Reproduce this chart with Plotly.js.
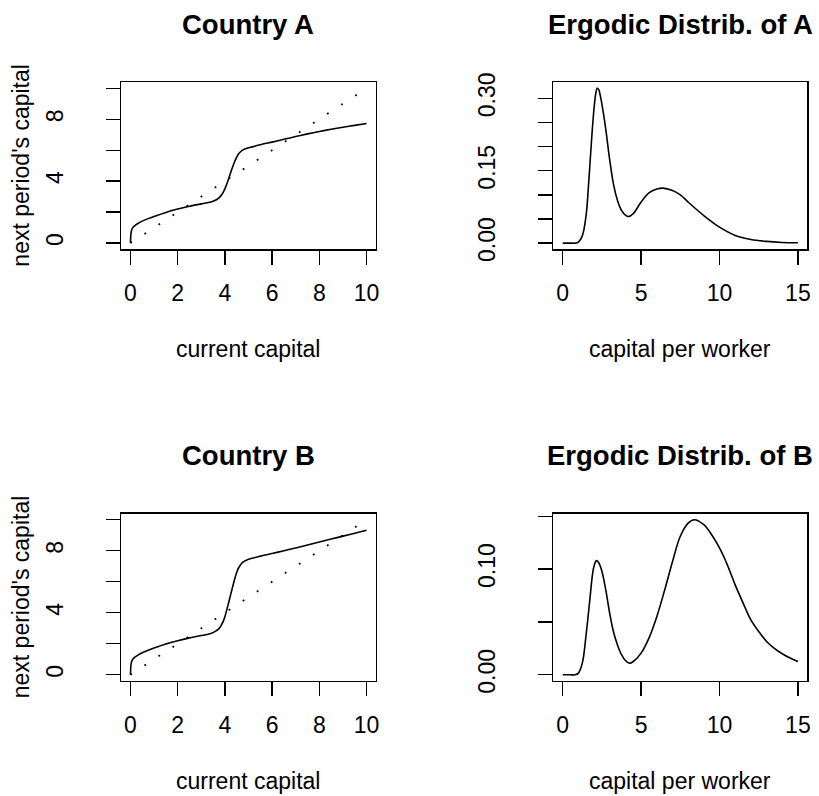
<!DOCTYPE html>
<html>
<head>
<meta charset="utf-8">
<script src="https://cdn.plot.ly/plotly-3.0.1.min.js"></script>
<style>
  html, body { margin: 0; padding: 0; background: #ffffff; }
  #chart { width: 819px; height: 796px; }
</style>
</head>
<body>
<div id="chart"></div>
<script>
// Transition maps k(t) -> k(t+1) for two countries, and the ergodic densities they imply.

// Current capital grid (shared by both transition maps)
const capitalNow = [0, 0.02, 0.05, 0.1, 0.2, 0.3, 0.5, 0.75, 1, 1.5, 2, 2.5, 3, 3.25, 3.5, 3.75,
  3.9, 4, 4.1, 4.2, 4.3, 4.4, 4.5, 4.6, 4.75, 5, 5.5, 6, 6.5, 7, 7.5, 8, 8.5, 9, 9.5, 10];

// Next period's capital, Country A
const nextCapitalA = [0, 0.6, 0.85, 1.0, 1.15, 1.25, 1.42, 1.58, 1.72, 1.98, 2.2, 2.38, 2.53, 2.6, 2.7, 2.92,
  3.2, 3.5, 3.9, 4.35, 4.8, 5.2, 5.55, 5.8, 6.0, 6.15, 6.35, 6.52, 6.7, 6.88, 7.05, 7.2, 7.35, 7.48, 7.6, 7.72];

// Next period's capital, Country B
const nextCapitalB = [0, 0.6, 0.85, 1.0, 1.15, 1.25, 1.42, 1.58, 1.72, 1.98, 2.2, 2.38, 2.53, 2.6, 2.72, 2.98,
  3.35, 3.75, 4.3, 4.9, 5.5, 6.1, 6.6, 6.95, 7.25, 7.45, 7.65, 7.82, 8.0, 8.18, 8.37, 8.56, 8.75, 8.94, 9.13, 9.32];

// 45-degree reference line
const diagX = [0, 10];
const diagY = [0, 10];

// Ergodic density of Country A
const densXA = [0, 0.5, 0.8, 1, 1.25, 1.5, 1.625, 1.75, 1.875, 2, 2.1, 2.2, 2.3, 2.4, 2.5, 2.75, 3, 3.25, 3.5,
  3.75, 4, 4.2, 4.5, 5, 5.5, 6, 6.4, 7, 7.5, 8, 9, 10, 11, 12, 13, 14, 15];
const densYA = [0, 0, 0, 0.002, 0.015, 0.06, 0.11, 0.17, 0.23, 0.28, 0.308, 0.321, 0.318, 0.305, 0.288, 0.235,
  0.172, 0.12, 0.088, 0.068, 0.058, 0.055, 0.061, 0.085, 0.104, 0.112, 0.114, 0.109, 0.1, 0.085, 0.057, 0.033,
  0.016, 0.0076, 0.0035, 0.0014, 0.0007];

// Ergodic density of Country B
const densXB = [0, 0.5, 0.8, 1, 1.25, 1.5, 1.75, 1.9, 2, 2.15, 2.3, 2.5, 2.75, 3, 3.25, 3.5, 3.75, 4, 4.25, 4.5,
  5, 5.5, 6, 6.5, 7, 7.5, 8, 8.4, 9, 9.5, 10, 10.5, 11, 11.5, 12, 12.5, 13, 13.5, 14, 14.5, 15];
const densYB = [0, 0, 0, 0.0016, 0.011, 0.039, 0.074, 0.095, 0.103, 0.108, 0.106, 0.098, 0.08, 0.058, 0.04,
  0.028, 0.019, 0.0135, 0.011, 0.0126, 0.0205, 0.0347, 0.055, 0.08, 0.107, 0.131, 0.1435, 0.1467, 0.142, 0.1325,
  0.12, 0.104, 0.085, 0.068, 0.052, 0.041, 0.0315, 0.025, 0.0199, 0.0158, 0.0126];

// Tick positions and labels
const mapTicks = [0, 2, 4, 6, 8, 10];
const mapXLabels = ['0', '2', '4', '6', '8', '10'];
const mapYLabels = ['0', '', '4', '', '8', ''];
const densTicksX = [0, 5, 10, 15];
const densXLabels = ['0', '5', '10', '15'];
const densTicksYA = [0, 0.05, 0.10, 0.15, 0.20, 0.25, 0.30];
const densYLabelsA = ['0.00', '', '', '0.15', '', '', '0.30'];
const densTicksYB = [0, 0.05, 0.10, 0.15];
const densYLabelsB = ['0.00', '', '0.10', ''];

// Text
const panelTitles = ['Country A', 'Ergodic Distrib. of A', 'Country B', 'Ergodic Distrib. of B'];
const xTitles = ['current capital', 'capital per worker', 'current capital', 'capital per worker'];
const yTitleMap = "next period's capital";

const W = 819, H = 796;
const FONT = 'Liberation Sans, Arial, Helvetica, sans-serif';

// Plot boxes in pixels: [left, right, top, bottom]
const boxes = [
  [121, 376, 82, 249.3],
  [553.3, 807.3, 82, 249.3],
  [121, 376, 513.5, 681],
  [553.3, 807.3, 513.5, 681]
];

function padRange(lo, hi) {
  const d = (hi - lo) * 0.04;
  return [lo - d, hi + d];
}

function axisBase(box, isX, range, vals, text, anchor) {
  const dom = isX ? [box[0] / W, box[1] / W] : [1 - box[3] / H, 1 - box[2] / H];
  return {
    domain: dom,
    range: range,
    anchor: anchor,
    tickmode: 'array',
    tickvals: vals,
    ticktext: text,
    showline: true,
    mirror: true,
    linecolor: '#000',
    linewidth: 1.3,
    ticks: 'outside',
    ticklen: 14,
    tickwidth: 1.3,
    tickcolor: '#000',
    showgrid: false,
    zeroline: false,
    tickangle: isX ? 0 : -90,
    ticklabelstandoff: isX ? 9 : 34,
    tickfont: { family: FONT, size: 23, color: '#000' },
    fixedrange: true
  };
}

const mapRange = padRange(0, 10);
const densXRange = padRange(0, 15);
const densYRangeA = padRange(0, Math.max(...densYA));
const densYRangeB = padRange(0, Math.max(...densYB));

const solid = { color: '#000', width: 1.6 };
const dotted = { color: '#000', width: 1.8, dash: '1.8px,15px' };

const traces = [
  { x: capitalNow, y: nextCapitalA, xaxis: 'x', yaxis: 'y', mode: 'lines', line: Object.assign({ shape: 'spline', smoothing: 0.6 }, solid) },
  { x: diagX, y: diagY, xaxis: 'x', yaxis: 'y', mode: 'lines', line: dotted },
  { x: densXA, y: densYA, xaxis: 'x2', yaxis: 'y2', mode: 'lines', line: Object.assign({ shape: 'spline', smoothing: 1 }, solid) },
  { x: capitalNow, y: nextCapitalB, xaxis: 'x3', yaxis: 'y3', mode: 'lines', line: Object.assign({ shape: 'spline', smoothing: 0.6 }, solid) },
  { x: diagX, y: diagY, xaxis: 'x3', yaxis: 'y3', mode: 'lines', line: dotted },
  { x: densXB, y: densYB, xaxis: 'x4', yaxis: 'y4', mode: 'lines', line: Object.assign({ shape: 'spline', smoothing: 1 }, solid) }
];

const annotations = [];
boxes.forEach((b, i) => {
  const cx = (b[0] + b[1]) / 2 / W;
  // panel title
  annotations.push({
    xref: 'paper', yref: 'paper', x: cx, y: 1 - (b[2] - 58) / H,
    xanchor: 'center', yanchor: 'middle', showarrow: false,
    text: '<b>' + panelTitles[i] + '</b>',
    font: { family: FONT, size: 27.5, color: '#000' }
  });
  // x-axis title
  annotations.push({
    xref: 'paper', yref: 'paper', x: cx, y: 1 - (b[3] + 100) / H,
    xanchor: 'center', yanchor: 'middle', showarrow: false,
    text: xTitles[i],
    font: { family: FONT, size: 23, color: '#000' }
  });
});
[0, 2].forEach(i => {
  const b = boxes[i];
  annotations.push({
    xref: 'paper', yref: 'paper', x: 21 / W, y: 1 - (b[2] + b[3]) / 2 / H,
    xanchor: 'center', yanchor: 'middle', showarrow: false, textangle: -90,
    text: yTitleMap,
    font: { family: FONT, size: 23, color: '#000' }
  });
});

const layout = {
  width: W, height: H,
  margin: { l: 0, r: 0, t: 0, b: 0 },
  paper_bgcolor: '#fff', plot_bgcolor: '#fff',
  showlegend: false,
  xaxis: axisBase(boxes[0], true, mapRange, mapTicks, mapXLabels, 'y'),
  yaxis: axisBase(boxes[0], false, mapRange, mapTicks, mapYLabels, 'x'),
  xaxis2: axisBase(boxes[1], true, densXRange, densTicksX, densXLabels, 'y2'),
  yaxis2: axisBase(boxes[1], false, densYRangeA, densTicksYA, densYLabelsA, 'x2'),
  xaxis3: axisBase(boxes[2], true, mapRange, mapTicks, mapXLabels, 'y3'),
  yaxis3: axisBase(boxes[2], false, mapRange, mapTicks, mapYLabels, 'x3'),
  xaxis4: axisBase(boxes[3], true, densXRange, densTicksX, densXLabels, 'y4'),
  yaxis4: axisBase(boxes[3], false, densYRangeB, densTicksYB, densYLabelsB, 'x4'),
  annotations: annotations
};

Plotly.newPlot('chart', traces, layout, { displayModeBar: false, staticPlot: true });
</script>
</body>
</html>
